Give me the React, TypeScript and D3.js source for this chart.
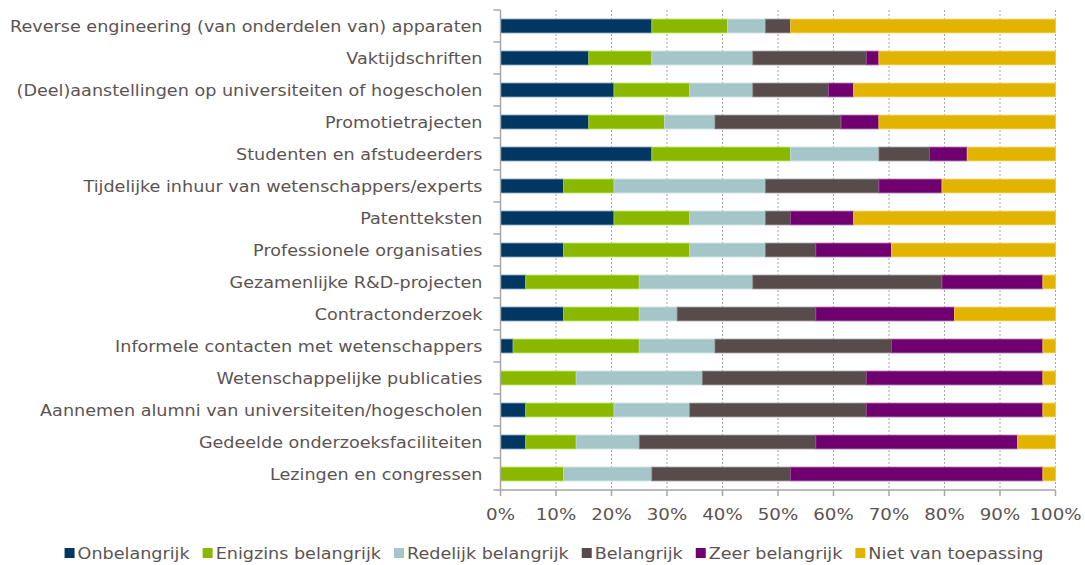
import React, { useEffect, useRef } from "react";
import * as d3 from "d3";

const categories = [
  "Reverse engineering (van onderdelen van) apparaten",
  "Vaktijdschriften",
  "(Deel)aanstellingen op universiteiten of hogescholen",
  "Promotietrajecten",
  "Studenten en afstudeerders",
  "Tijdelijke inhuur van wetenschappers/experts",
  "Patentteksten",
  "Professionele organisaties",
  "Gezamenlijke R&D-projecten",
  "Contractonderzoek",
  "Informele contacten met wetenschappers",
  "Wetenschappelijke publicaties",
  "Aannemen alumni van universiteiten/hogescholen",
  "Gedeelde onderzoeksfaciliteiten",
  "Lezingen en congressen",
];

const seriesNames = [
  "Onbelangrijk",
  "Enigzins belangrijk",
  "Redelijk belangrijk",
  "Belangrijk",
  "Zeer belangrijk",
  "Niet van toepassing",
];

// counts of respondents (n = 44) per category
const onbelangrijk = [12, 7, 9, 7, 12, 5, 9, 5, 2, 5, 1, 0, 2, 2, 0];
const enigzins = [6, 5, 6, 6, 11, 4, 6, 10, 9, 6, 10, 6, 7, 4, 5];
const redelijk = [3, 8, 5, 4, 7, 12, 6, 6, 9, 3, 6, 10, 6, 5, 7];
const belangrijk = [2, 9, 6, 10, 4, 9, 2, 4, 15, 11, 14, 13, 14, 14, 11];
const zeer = [0, 1, 2, 3, 3, 5, 5, 6, 8, 11, 12, 14, 14, 16, 20];
const nietVanToepassing = [21, 14, 16, 14, 7, 9, 16, 13, 1, 8, 1, 1, 1, 3, 1];

const tickValues = [0, 0.1, 0.2, 0.3, 0.4, 0.5, 0.6, 0.7, 0.8, 0.9, 1];

const colors = ["#003763", "#8AB800", "#A5C6C9", "#574C4B", "#700070", "#E2B400"];
const strokes = ["#5A7C99", "#A6D83A", "#BFD8DA", "#8A807F", "#9A4A9A", "#F0CC50"];

export default function App() {
  const ref = useRef<SVGSVGElement>(null);

  useEffect(() => {
    const svg = d3.select(ref.current);
    svg.selectAll("*").remove();

    const W = 1085, H = 565;
    const m = { left: 500.5, right: 29.5, top: 10, bottom: 75 };
    const font = "'DejaVu Sans', Verdana, sans-serif";
    const textColor = "#5C5353";
    const fs = 16;
    const sx = 1.1; // horizontal stretch to mimic Verdana widths

    const seriesArr = [onbelangrijk, enigzins, redelijk, belangrijk, zeer, nietVanToepassing];
    const rows = categories.map((c, i) => {
      const r: any = { cat: c };
      seriesNames.forEach((s, j) => (r[s] = seriesArr[j][i]));
      return r;
    });
    const stacked = d3.stack().keys(seriesNames).offset(d3.stackOffsetExpand)(rows);

    const x = d3.scaleLinear().domain([0, 1]).range([m.left, W - m.right]);
    const y = d3.scaleBand().domain(categories).range([m.top, H - m.bottom]).paddingInner(0.57).paddingOuter(0.285);
    const band = d3.scaleBand().domain(categories).range([m.top, H - m.bottom]);

    // gridlines
    svg.append("g")
      .selectAll("line")
      .data(tickValues.slice(1))
      .join("line")
      .attr("x1", (d) => x(d)).attr("x2", (d) => x(d))
      .attr("y1", m.top).attr("y2", H - m.bottom)
      .attr("stroke", "#A6A6A6").attr("stroke-width", 1).attr("stroke-dasharray", "2,2");

    // bars
    svg.append("g")
      .selectAll("g")
      .data(stacked)
      .join("g")
      .each(function (ser, si) {
        d3.select(this)
          .selectAll("rect")
          .data(ser.filter((d) => d[1] - d[0] > 0))
          .join("rect")
          .attr("x", (d) => x(d[0]))
          .attr("width", (d) => x(d[1]) - x(d[0]))
          .attr("y", (d) => y((d.data as any).cat)!)
          .attr("height", y.bandwidth())
          .attr("fill", colors[si])
          .attr("stroke", strokes[si])
          .attr("stroke-width", 0.8);
      });

    // left axis
    const yAxis = svg.append("g");
    yAxis.append("line")
      .attr("x1", m.left).attr("x2", m.left).attr("y1", m.top).attr("y2", H - m.bottom)
      .attr("stroke", "#A6A6A6").attr("stroke-width", 1.5);
    yAxis.selectAll("line.tk")
      .data(d3.range(categories.length + 1))
      .join("line")
      .attr("class", "tk")
      .attr("x1", m.left - 7).attr("x2", m.left)
      .attr("y1", (i) => m.top + i * band.step()).attr("y2", (i) => m.top + i * band.step())
      .attr("stroke", "#A6A6A6").attr("stroke-width", 1.5);
    yAxis.selectAll("text")
      .data(categories)
      .join("text")
      .attr("transform", (d) => `translate(${m.left - 18},${band(d)! + band.bandwidth() / 2}) scale(${sx},1)`)
      .attr("dy", "0.36em")
      .attr("text-anchor", "end")
      .attr("font-family", font).attr("font-size", fs)
      .attr("fill", textColor)
      .text((d) => d);

    // bottom axis
    const xAxis = svg.append("g");
    xAxis.append("line")
      .attr("x1", m.left).attr("x2", W - m.right).attr("y1", H - m.bottom).attr("y2", H - m.bottom)
      .attr("stroke", "#A6A6A6").attr("stroke-width", 1.5);
    xAxis.selectAll("line.tk")
      .data(tickValues)
      .join("line")
      .attr("class", "tk")
      .attr("x1", (d) => x(d)).attr("x2", (d) => x(d))
      .attr("y1", H - m.bottom).attr("y2", H - m.bottom + 6)
      .attr("stroke", "#A6A6A6").attr("stroke-width", 1.5);
    xAxis.selectAll("text")
      .data(tickValues)
      .join("text")
      .attr("transform", (d) => `translate(${x(d)},514) scale(1.14,1)`)
      .attr("dy", "0.36em")
      .attr("text-anchor", "middle")
      .attr("font-family", font).attr("font-size", fs)
      .attr("fill", textColor)
      .text((d) => d3.format(".0%")(d));

    // legend
    const lg = svg.append("g");
    let cx = 0;
    const offsets: number[] = [];
    const items = seriesNames.map((s, i) => {
      const g = lg.append("g");
      g.append("rect").attr("x", 0).attr("y", -5).attr("width", 10).attr("height", 10).attr("fill", colors[i]);
      const t = g.append("text")
        .attr("transform", `translate(13,0) scale(${sx},1)`)
        .attr("dy", "0.36em")
        .attr("font-family", font).attr("font-size", fs)
        .attr("fill", textColor).text(s);
      const w = 13 + (t.node() as SVGTextElement).getComputedTextLength() * sx;
      offsets.push(cx);
      cx += w + 13;
      return g;
    });
    const total = cx - 13;
    const start = 554 - total / 2;
    items.forEach((g, i) => g.attr("transform", `translate(${offsets[i] + start},553)`));
  }, []);

  return (
    <svg
      ref={ref}
      width={1085}
      height={565}
      style={{ position: "absolute", left: 0, top: 0, background: "#fff" }}
    />
  );
}
